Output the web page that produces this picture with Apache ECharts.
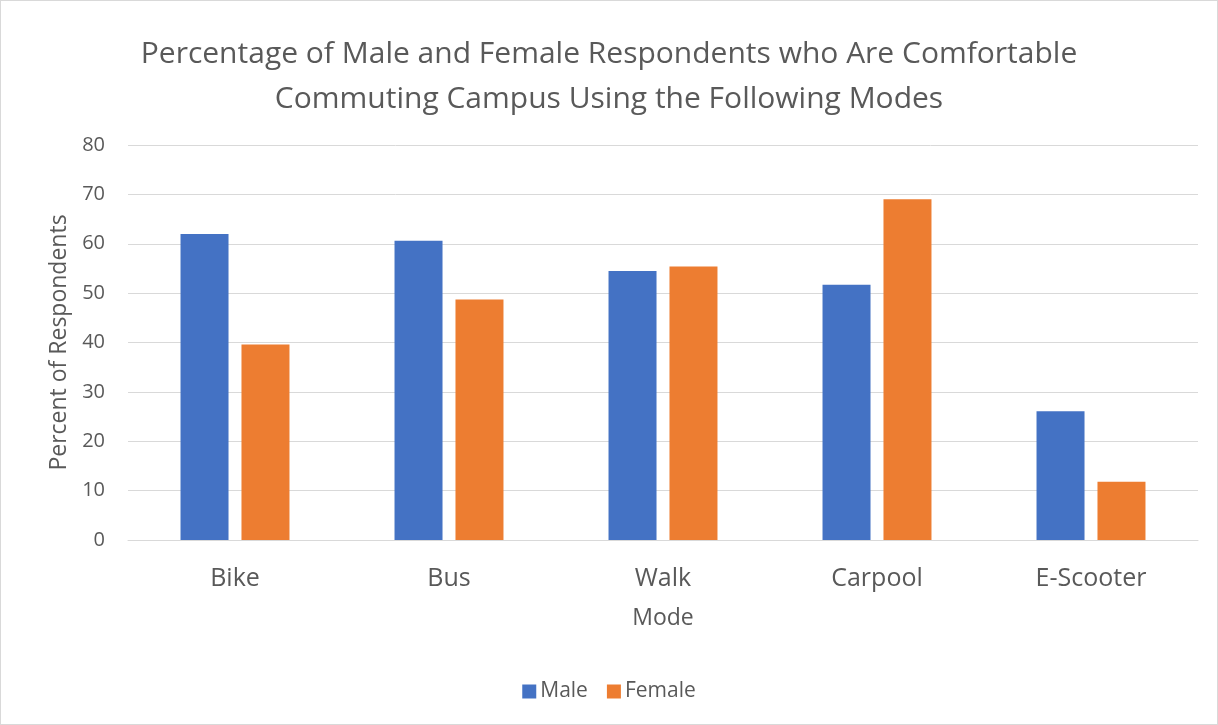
<!DOCTYPE html>
<html>
<head>
<meta charset="utf-8">
<script src="https://cdn.jsdelivr.net/npm/echarts@6/dist/echarts.min.js"></script>
<style>
  html, body { margin: 0; padding: 0; background: #fff; }
  #chart { width: 1216px; height: 723px; border: 1px solid #d9d9d9; }
</style>
</head>
<body>
<div id="chart"></div>
<script>
// Commuting comfort by mode, split by gender (percent of respondents)
const modes = ['Bike', 'Bus', 'Walk', 'Carpool', 'E-Scooter'];
const maleValues = [62.0, 60.6, 54.5, 51.7, 26.1];
const femaleValues = [39.6, 48.7, 55.4, 69.0, 11.8];
const yTicks = { min: 0, max: 80, interval: 10 };

const textColor = '#595959';
const fontFamily = '"Open Sans", "DejaVu Sans", sans-serif';

const chart = echarts.init(document.getElementById('chart'));
chart.setOption({
  animation: false,
  title: {
    text: 'Percentage of Male and Female Respondents who Are Comfortable\nCommuting Campus Using the Following Modes',
    left: 'center',
    top: 26,
    textStyle: {
      fontFamily: fontFamily,
      fontWeight: 'normal',
      fontSize: 30,
      lineHeight: 45,
      color: textColor
    }
  },
  legend: {
    bottom: 17,
    left: 'center',
    itemWidth: 14,
    itemHeight: 14,
    itemGap: 19,
    icon: 'rect',
    textStyle: { fontFamily: fontFamily, fontSize: 21, color: textColor, padding: [0, 0, 0, -1] },
    data: ['Male', 'Female']
  },
  grid: { left: 127, right: 19, top: 144, bottom: 184 },
  xAxis: {
    type: 'category',
    data: modes,
    name: 'Mode',
    nameLocation: 'middle',
    nameGap: 67,
    nameTextStyle: { fontFamily: fontFamily, fontSize: 23, color: textColor },
    axisTick: { show: false },
    axisLine: { lineStyle: { color: '#d9d9d9', width: 1 } },
    axisLabel: { fontFamily: fontFamily, fontSize: 25, color: textColor, margin: 26 }
  },
  yAxis: {
    type: 'value',
    min: yTicks.min,
    max: yTicks.max,
    interval: yTicks.interval,
    name: 'Percent of Respondents',
    nameLocation: 'middle',
    nameGap: 52,
    nameTextStyle: { fontFamily: fontFamily, fontSize: 23, color: textColor },
    axisLine: { show: false },
    axisTick: { show: false },
    axisLabel: { fontFamily: fontFamily, fontSize: 20, color: textColor, margin: 23 },
    splitLine: { lineStyle: { color: '#d9d9d9', width: 1 } }
  },
  series: [
    {
      name: 'Male',
      type: 'bar',
      data: maleValues,
      barWidth: 48,
      barGap: '27%',
      itemStyle: { color: '#4472c4' }
    },
    {
      name: 'Female',
      type: 'bar',
      data: femaleValues,
      barWidth: 48,
      barGap: '27%',
      itemStyle: { color: '#ed7d31' }
    }
  ]
});
</script>
</body>
</html>
